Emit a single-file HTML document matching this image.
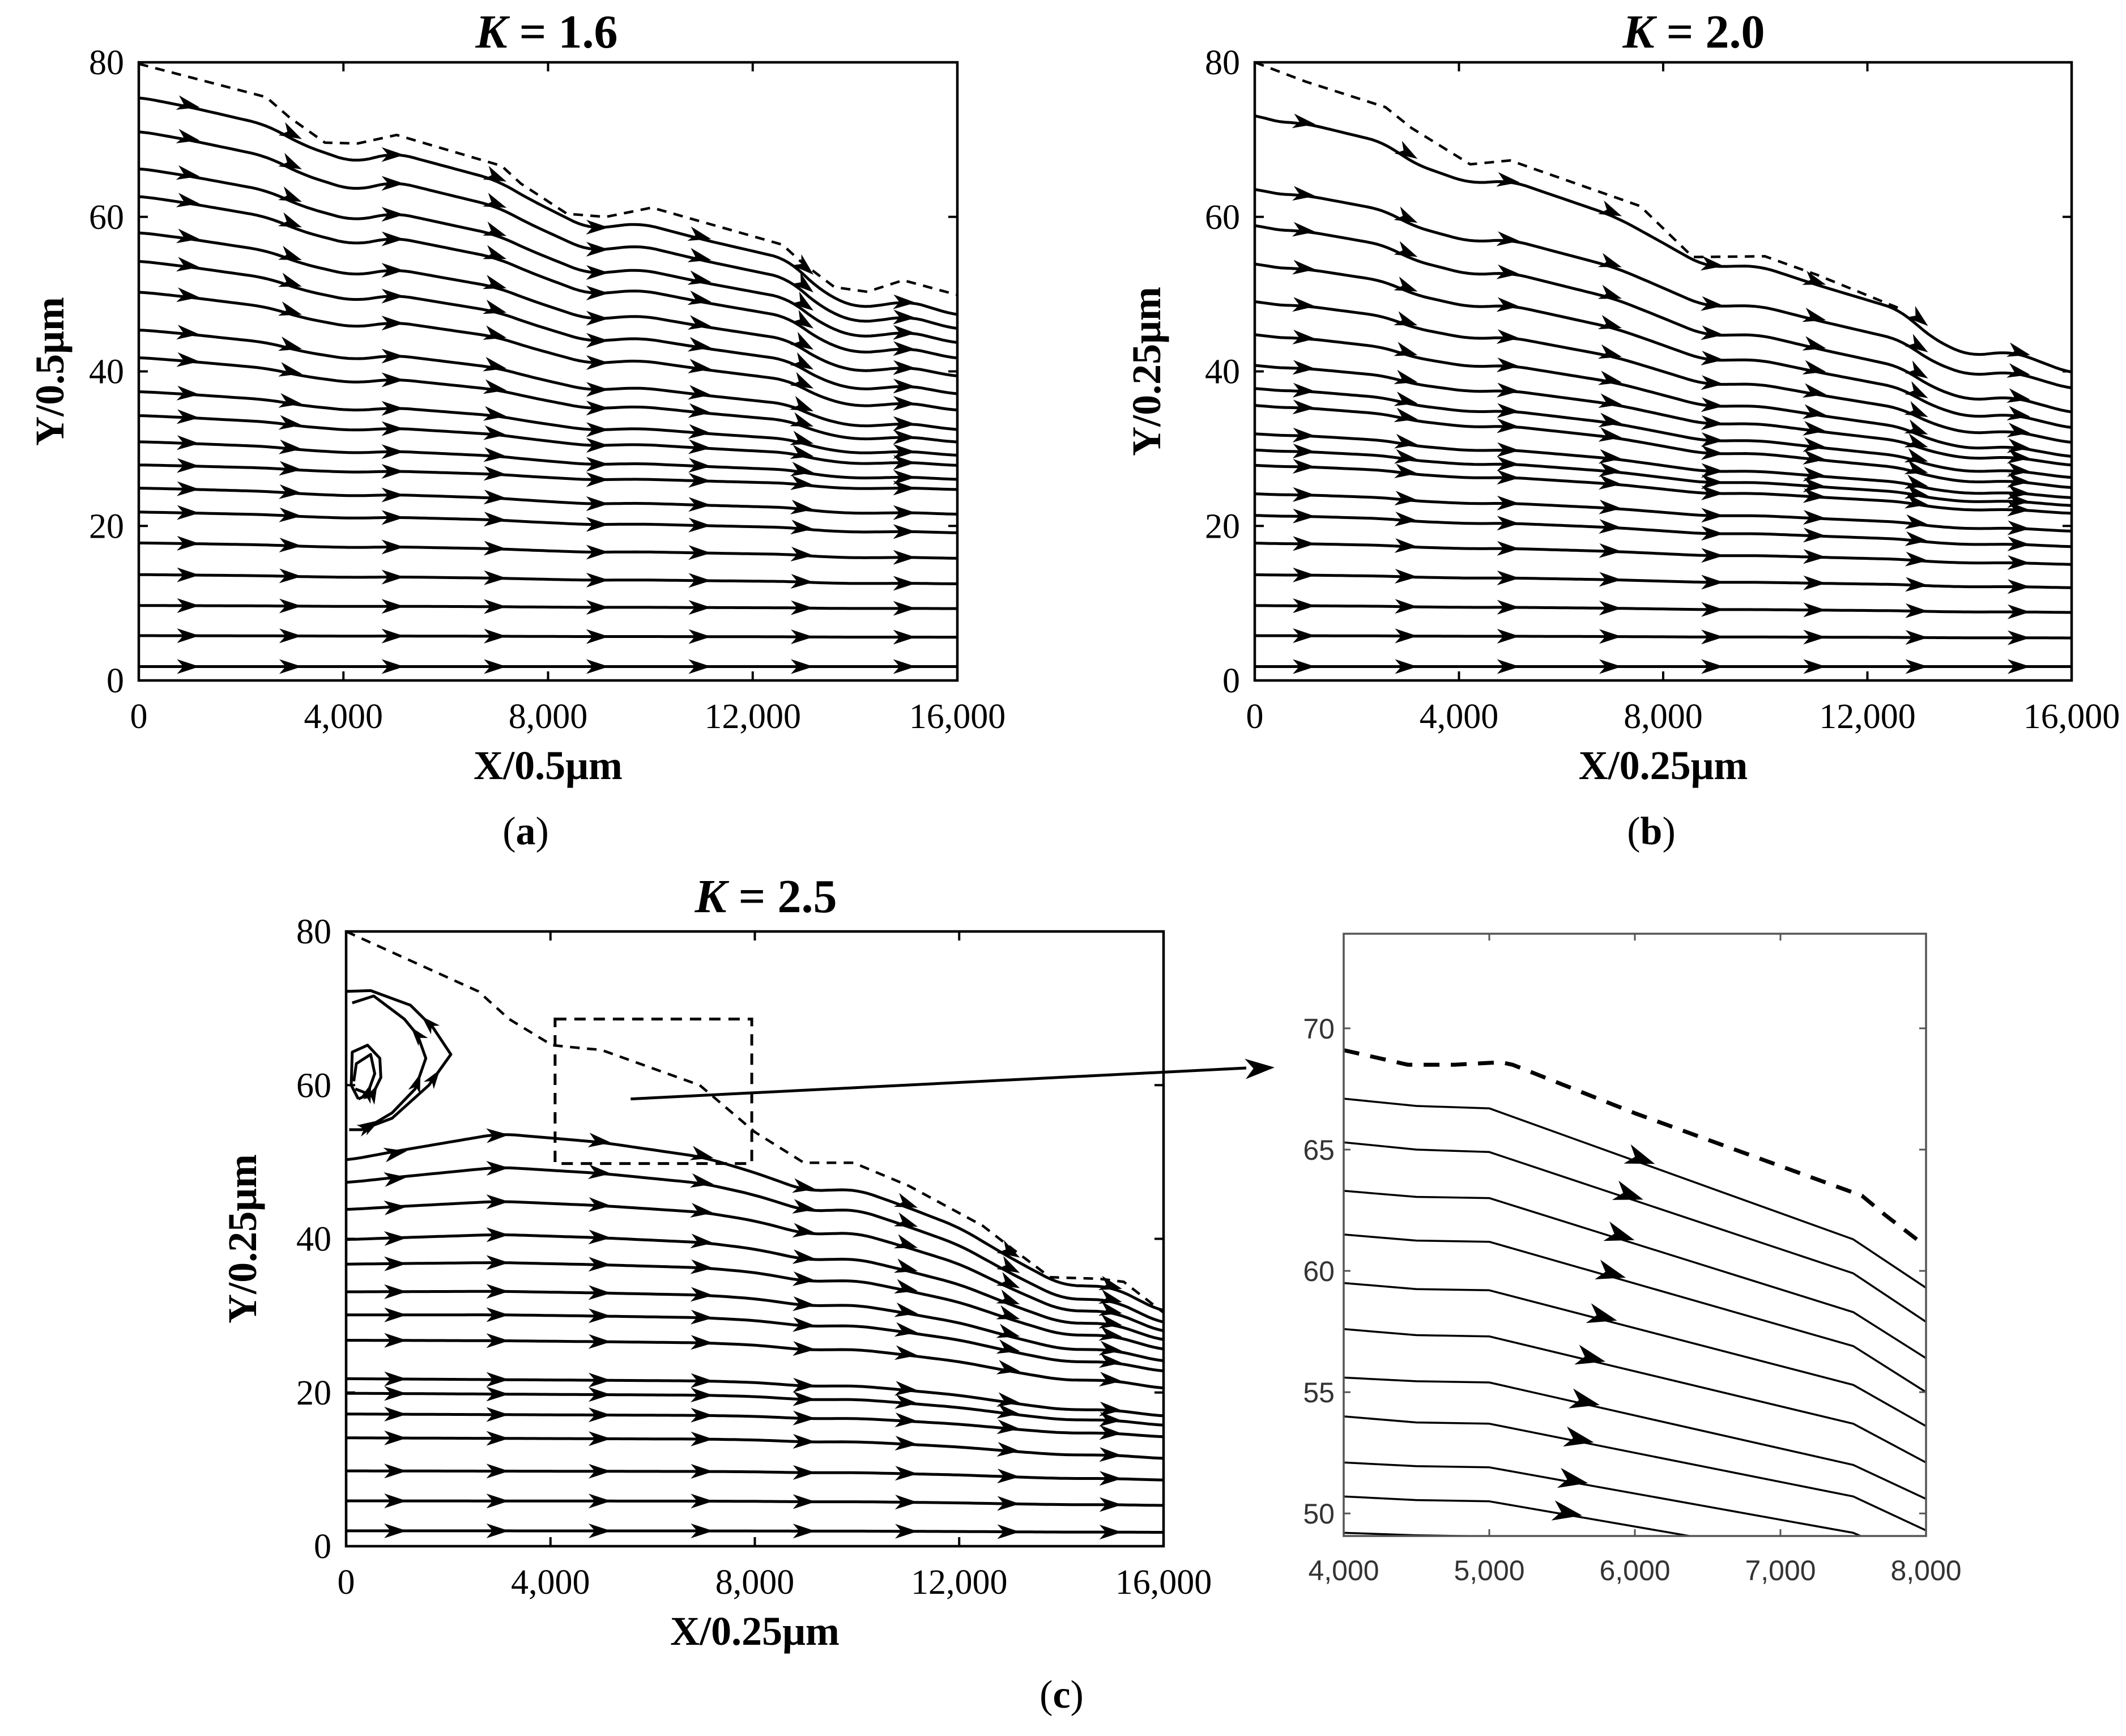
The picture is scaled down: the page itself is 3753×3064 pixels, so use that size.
<!DOCTYPE html>
<html><head><meta charset="utf-8"><style>
html,body{margin:0;padding:0;background:#fff;}
svg{display:block;}
</style></head><body>
<svg id="fig" xmlns="http://www.w3.org/2000/svg" width="3753" height="3064" viewBox="0 0 3753 3064">
<rect x="0" y="0" width="3753" height="3064" fill="#fff"/>
<defs>
<clipPath id="clipA"><rect x="245" y="110" width="1445" height="1091"/></clipPath>
<clipPath id="clipB"><rect x="2215" y="110" width="1442" height="1091"/></clipPath>
<clipPath id="clipC"><rect x="611" y="1644" width="1443" height="1085"/></clipPath>
<clipPath id="clipI"><rect x="2372" y="1648" width="1028" height="1063"/></clipPath>
</defs>
<g id="root"></g>
</svg>
<script>
// ---------- Panel (a) data ----------
const aStartY=[75.5,71.1,66.3,62.7,58,54.3,50.3,45.4,41.8,37.4,34.3,30.9,27.9,24.9,21.8,17.8,13.7,9.7,5.8,1.8];
const aEndY=[47.2,45.4,43.6,41.6,39.3,37.0,34.9,32.4,30.8,29.1,27.8,26.0,24.7,21.5,19.1,15.8,12.5,9.3,5.6,1.8];
const aShapeX=[0,1000,2500,3200,4200,5000,7000,7600,8800,9800,11000,12700,13300,14000,14800,15000,16000];
const aShapeT=[0,0.046,0.127,0.219,0.300,0.254,0.38,0.463,0.604,0.576,0.650,0.742,0.883,0.965,0.943,0.929,1];
const aBoundX=[0,2490,2940,3640,4280,5040,7090,7470,8370,9130,10030,12580,12960,13600,14240,14940,16000];
const aBoundY=[79.8,75.5,72.9,69.6,69.5,70.6,66.6,64.3,60.4,60,61.2,56.4,54.1,50.9,50.3,51.8,49.9];
const aArrowX=[1000,3000,5000,7000,9000,11000,13000,15000];
// ---------- Panel (b) data ----------
const bStartY=[73.4,63.8,59.1,54.1,49.2,44.9,40.9,37.9,35.7,32,29.9,27.9,24.2,21.4,17.8,13.7,9.7,5.8,1.8];
const bEndY=[39.7,37.7,34.6,32.6,30.7,28.9,27.8,26.2,24.9,23.6,22.6,21.6,19.3,17.3,15,12,8.8,5.5,1.8];
const bShapeX=[0,250,1000,2560,3070,4220,5000,7040,7680,8830,9860,11010,12680,13190,13960,14850,16000];
const bShapeT=[0,0.03,0.039,0.113,0.19,0.27,0.258,0.395,0.463,0.59,0.585,0.659,0.757,0.855,0.932,0.914,1];
const bBoundX=[0,1000,2560,3070,4220,5000,7550,8580,9990,11010,12610];
const bBoundY=[80,77.5,74.2,71.5,66.8,67.3,61.4,54.8,54.9,52.5,48.2];
const bArrowX=[1000,3000,5000,7000,9000,11000,13000,15000];
// ---------- Panel (c) data ----------
const cStartY=[50.2,47.3,43.8,39.9,36.7,33.1,30.1,26.8,21.8,19.9,17.2,14.1,9.8,5.9,2.0];
const cEndY=[30.4,28.9,27.8,26.7,25.5,24,22.7,20.5,16.9,15.7,14.2,11.4,8.6,5.3,1.8];
const cLift=[4,2.5,1.5,1,0.5,0.3,0.2,0.1,0,0,0,0,0,0,0];
const cRiseX=[0,1000,3000,5000,7000,8000,9000,16000];
const cRiseV=[0,0.35,1,0.8,0.4,0.1,0,0];
const cShapeX=[0,7000,8000,9000,10000,11000,12000,13000,14000,15000,16000];
const cShapeT=[0,0.06,0.1,0.2,0.19,0.31,0.44,0.64,0.82,0.83,1];
const cBoundX=[0,2590,3190,4030,4630,4990,6920,8000,8960,9930,11010,12460,13060,13780,14740,15220,16000];
const cBoundY=[80,72.2,68.6,65.2,64.8,64.6,60,53.9,49.9,49.9,46.9,41.7,38.6,35,34.8,34.4,30.4];
const cArrowX=[1000,3000,5000,7000,9000,11000,13000,15000];
const vortexOuterX=[60,300,900,1620,2050,1700,1260,480,0];
const vortexOuterY=[54.2,54.2,55.7,60,64,67.5,70.4,72.3,72.2];
const vortexMidX=[420,900,1350,1560,1400,1140,540,120];
const vortexMidY=[54.5,56.4,59.5,63.5,66.5,68.6,71.6,70.7];
const vortexIn1X=[240,540,680,660,420,120,100,240];
const vortexIn1Y=[58.2,59.1,61,63.5,65.2,64.3,60,58.2];
const vortexIn2X=[180,420,560,480,200,150];
const vortexIn2Y=[59.5,58.9,61.5,64,62.8,60.5];
const zoomBoxX=[4090,7940];
const zoomBoxY=[49.8,68.6];
// ---------- Inset data ----------
const insetX=[4000,4500,5000,7500,8000];
const insetLines=[
 [67.1,66.8,66.7,61.3,59.3],
 [65.3,65.0,64.9,59.9,57.9],
 [63.3,63.05,63.0,58.3,56.4],
 [61.5,61.25,61.2,56.9,55.0],
 [59.5,59.25,59.2,55.3,53.6],
 [57.6,57.35,57.3,53.7,52.1],
 [55.6,55.45,55.4,52.0,50.6],
 [54.0,53.75,53.7,50.7,49.3],
 [52.1,51.95,51.9,49.2,47.9],
 [50.7,50.55,50.5,47.9,46.6],
 [49.2,49.1,49.05,46.5,45.2]];
const insetArrowX=[6060,5980,5920,5860,5800,5720,5680,5640,5600,5560,0];
const insetBoundX=[4000,4440,4760,5080,5160,6000,7560,7720,7980];
const insetBoundY=[69.1,68.5,68.5,68.6,68.5,66.5,63.1,62.3,61.1];
const mainXTicks=[0,4000,8000,12000,16000];
const mainYTicks=[0,20,40,60,80];
const insetXTicks=[4000,5000,6000,7000,8000];
const insetYTicks=[50,55,60,65,70];

const NS="http://www.w3.org/2000/svg";
const root=document.getElementById('root');
function el(tag,attrs,parent){const e=document.createElementNS(NS,tag);for(const k in attrs)e.setAttribute(k,attrs[k]);(parent||root).appendChild(e);return e;}
function interp(xs,ys,x){if(x<=xs[0])return ys[0];for(let i=1;i<xs.length;i++){if(x<=xs[i]){const t=(x-xs[i-1])/(xs[i]-xs[i-1]);return ys[i-1]+t*(ys[i]-ys[i-1]);}}return ys[ys.length-1];}
function sinterp(xs,ys,x){let s=0,n=0;for(let o=-300;o<=300;o+=100){s+=interp(xs,ys,Math.min(16000,Math.max(0,x+o)));n++;}return s/n;}
function fmt(v){return v>=1000?Math.floor(v/1000)+','+String(v%1000).padStart(3,'0'):String(v);}
function arrowHead(g,px,py,ang,L,Wd){
 const c=Math.cos(ang),s=Math.sin(ang);
 const pts=[[0,0],[-L,-Wd/2],[-0.72*L,0],[-L,Wd/2]].map(p=>[px+p[0]*c-p[1]*s,py+p[0]*s+p[1]*c]);
 const a=el('polygon',{points:pts.map(p=>p[0].toFixed(1)+','+p[1].toFixed(1)).join(' '),fill:'#000'},g);
 
 
}
function txt(g,x,y,s,attrs){const t=el('text',Object.assign({x:x,y:y},attrs),g);t.textContent=s;return t;}

function mainPanel(P){
 const sx=v=>P.x0+(v/16000)*(P.x1-P.x0);
 const sy=v=>P.y1-(v/80)*(P.y1-P.y0);
 const g=el('g',{});
 
 
 const lines=el('g',{'clip-path':'url(#'+P.clip+')'},g);
 
 
 P.starts.forEach((y0,i)=>{
  const yEnd=P.ends[i];
  const f=x=>{let y=y0+(yEnd-y0)*sinterp(P.shapeX,P.shapeT,x);if(P.lift)y+=P.lift[i]*sinterp(P.riseX,P.riseV,x);return y;};
  let d='';
  for(let x=0;x<=16000;x+=100){d+=(x?'L':'M')+sx(x).toFixed(1)+','+sy(f(x)).toFixed(1);}
  const p=el('path',{d:d,fill:'none',stroke:'#000','stroke-width':5,'stroke-linejoin':'round'},lines);
  
  
  P.arrows.forEach(ax=>{
   const x1=sx(ax-150),y1=sy(f(ax-150)),x2=sx(ax+150),y2=sy(f(ax+150));
   arrowHead(lines,sx(ax)+17,sy(f(ax)),Math.atan2(y2-y1,x2-x1),40,26);
  });
 });
 let d='';
 P.boundX.forEach((bx,i)=>{d+=(i?'L':'M')+sx(bx).toFixed(1)+','+sy(P.boundY[i]).toFixed(1);});
 const bd=el('path',{d:d,fill:'none',stroke:'#000','stroke-width':4.5,'stroke-dasharray':'17 13','stroke-linejoin':'round'},lines);
 
 
 const fr=el('rect',{x:P.x0,y:P.y0,width:P.x1-P.x0,height:P.y1-P.y0,fill:'none',stroke:'#000','stroke-width':4.5},g);
 
 
 mainXTicks.forEach(v=>{
  const x=sx(v);
  el('line',{x1:x,y1:P.y1,x2:x,y2:P.y1-16,stroke:'#000','stroke-width':4},g);
  el('line',{x1:x,y1:P.y0,x2:x,y2:P.y0+16,stroke:'#000','stroke-width':4},g);
  const t=txt(g,x,P.y1+84,fmt(v),{'font-family':'Liberation Serif, serif','font-size':62,'text-anchor':'middle'});
  
  
 });
 mainYTicks.forEach(v=>{
  const y=sy(v);
  el('line',{x1:P.x0,y1:y,x2:P.x0+16,y2:y,stroke:'#000','stroke-width':4},g);
  el('line',{x1:P.x1,y1:y,x2:P.x1-16,y2:y,stroke:'#000','stroke-width':4},g);
  const t=txt(g,P.x0-26,y+21,String(v),{'font-family':'Liberation Serif, serif','font-size':62,'text-anchor':'end'});
  
  
 });
 const xl=txt(g,(P.x0+P.x1)/2,P.y1+174,P.xlabel,{'font-family':'Liberation Serif, serif','font-size':72,'font-weight':'bold','text-anchor':'middle'});
 
 
 const yc=(P.y0+P.y1)/2;
 const yl=txt(g,P.ylx,yc,P.ylabel,{'font-family':'Liberation Serif, serif','font-size':72,'font-weight':'bold','text-anchor':'middle',transform:'rotate(-90 '+P.ylx+' '+yc+')'});
 
 
 const tt=el('text',{x:P.tx,y:P.ty,'font-family':'Liberation Serif, serif','font-size':84,'font-weight':'bold','text-anchor':'middle'},g);
 
 
 const k=el('tspan',{'font-style':'italic'},tt);k.textContent='K';
 const r=el('tspan',{},tt);r.textContent=' = '+P.k;
 const lab=el('text',{x:P.lx,y:P.ly,'font-family':'Liberation Serif, serif','font-size':70,'text-anchor':'middle'},g);
 
 
 const l1=el('tspan',{},lab);l1.textContent='(';
 const l2=el('tspan',{'font-weight':'bold'},lab);l2.textContent=P.letter;
 const l3=el('tspan',{},lab);l3.textContent=')';
 return {sx,sy,g};
}

mainPanel({name:'panel-a',clip:'clipA',x0:245,x1:1690,y0:110,y1:1201,starts:aStartY,ends:aEndY,shapeX:aShapeX,shapeT:aShapeT,boundX:aBoundX,boundY:aBoundY,arrows:aArrowX,xlabel:'X/0.5μm',ylabel:'Y/0.5μm',ylx:112,tx:965,ty:84,k:'1.6',lx:928,ly:1490,letter:'a'});
mainPanel({name:'panel-b',clip:'clipB',x0:2215,x1:3657,y0:110,y1:1201,starts:bStartY,ends:bEndY,shapeX:bShapeX,shapeT:bShapeT,boundX:bBoundX,boundY:bBoundY,arrows:bArrowX,xlabel:'X/0.25μm',ylabel:'Y/0.25μm',ylx:2048,tx:2990,ty:84,k:'2.0',lx:2915,ly:1490,letter:'b'});
const C=mainPanel({name:'panel-c',clip:'clipC',x0:611,x1:2054,y0:1644,y1:2729,starts:cStartY,ends:cEndY,lift:cLift,riseX:cRiseX,riseV:cRiseV,shapeX:cShapeX,shapeT:cShapeT,boundX:cBoundX,boundY:cBoundY,arrows:cArrowX,xlabel:'X/0.25μm',ylabel:'Y/0.25μm',ylx:452,tx:1352,ty:1610,k:'2.5',lx:1874,ly:3014,letter:'c'});

[[vortexOuterX,vortexOuterY,[2,4,6]],[vortexMidX,vortexMidY,[1,3,5]],[vortexIn1X,vortexIn1Y,[2]],[vortexIn2X,vortexIn2Y,[2]]].forEach(v=>{
 const xs=v[0],ys=v[1];
 let d='';xs.forEach((x,i)=>{d+=(i?'L':'M')+C.sx(x).toFixed(1)+','+C.sy(ys[i]).toFixed(1);});
 const p=el('path',{d:d,fill:'none',stroke:'#000','stroke-width':5,'stroke-linejoin':'round'},C.g);
 
 
 v[2].forEach(i=>{
  const x1=C.sx(xs[i-1]),y1=C.sy(ys[i-1]),x2=C.sx(xs[i]),y2=C.sy(ys[i]);
  arrowHead(C.g,(x1+x2)/2,(y1+y2)/2,Math.atan2(y2-y1,x2-x1),34,22);
 });
});
const zr=el('rect',{x:C.sx(zoomBoxX[0]),y:C.sy(zoomBoxY[1]),width:C.sx(zoomBoxX[1])-C.sx(zoomBoxX[0]),height:C.sy(zoomBoxY[0])-C.sy(zoomBoxY[1]),fill:'none',stroke:'#000','stroke-width':5,'stroke-dasharray':'20 14'});


const px0=C.sx(5570),py0=C.sy(58.2);
const pl=el('line',{x1:px0,y1:py0,x2:2200,y2:1885,stroke:'#000','stroke-width':5});


arrowHead(root,2250,1884,Math.atan2(1885-py0,2200-px0),52,36);

(function(){
 const x0=2372,x1=3400,y0=1648,y1=2711,ymin=49.07,ymax=73.9;
 const sx=v=>x0+(v-4000)/4000*(x1-x0);
 const sy=v=>y1-(v-ymin)/(ymax-ymin)*(y1-y0);
 const g=el('g',{});
 
 
 const cl=el('g',{'clip-path':'url(#clipI)'},g);
 insetLines.forEach((ys,i)=>{
  let d='';insetX.forEach((x,j)=>{d+=(j?'L':'M')+sx(x).toFixed(1)+','+sy(ys[j]).toFixed(1);});
  const p=el('path',{d:d,fill:'none',stroke:'#000','stroke-width':3.5,'stroke-linejoin':'round'},cl);
  
  
  const ax=insetArrowX[i];
  if(ax){const y1=sy(interp(insetX,ys,ax-100)),y2=sy(interp(insetX,ys,ax+100));
   arrowHead(cl,sx(ax)+20,sy(interp(insetX,ys,ax)),Math.atan2(y2-y1,sx(ax+100)-sx(ax-100)),52,36);}
 });
 let d='';insetBoundX.forEach((x,j)=>{d+=(j?'L':'M')+sx(x).toFixed(1)+','+sy(insetBoundY[j]).toFixed(1);});
 const b=el('path',{d:d,fill:'none',stroke:'#000','stroke-width':7,'stroke-dasharray':'28 20'},cl);
 
 
 const fr=el('rect',{x:x0,y:y0,width:x1-x0,height:y1-y0,fill:'none',stroke:'#555','stroke-width':3.5},g);
 
 
 insetXTicks.forEach(v=>{
  const x=sx(v);
  el('line',{x1:x,y1:y1,x2:x,y2:y1-12,stroke:'#555','stroke-width':3},g);
  el('line',{x1:x,y1:y0,x2:x,y2:y0+12,stroke:'#555','stroke-width':3},g);
  const t=txt(g,x,y1+78,fmt(v),{'font-family':'Liberation Sans, sans-serif','font-size':50,'text-anchor':'middle',fill:'#333'});
  
  
 });
 insetYTicks.forEach(v=>{
  const y=sy(v);
  el('line',{x1:x0,y1:y,x2:x0+12,y2:y,stroke:'#555','stroke-width':3},g);
  el('line',{x1:x1,y1:y,x2:x1-12,y2:y,stroke:'#555','stroke-width':3},g);
  const t=txt(g,x0-16,y+18,String(v),{'font-family':'Liberation Sans, sans-serif','font-size':50,'text-anchor':'end',fill:'#333'});
  
  
 });
})();
</script>
</body></html>
